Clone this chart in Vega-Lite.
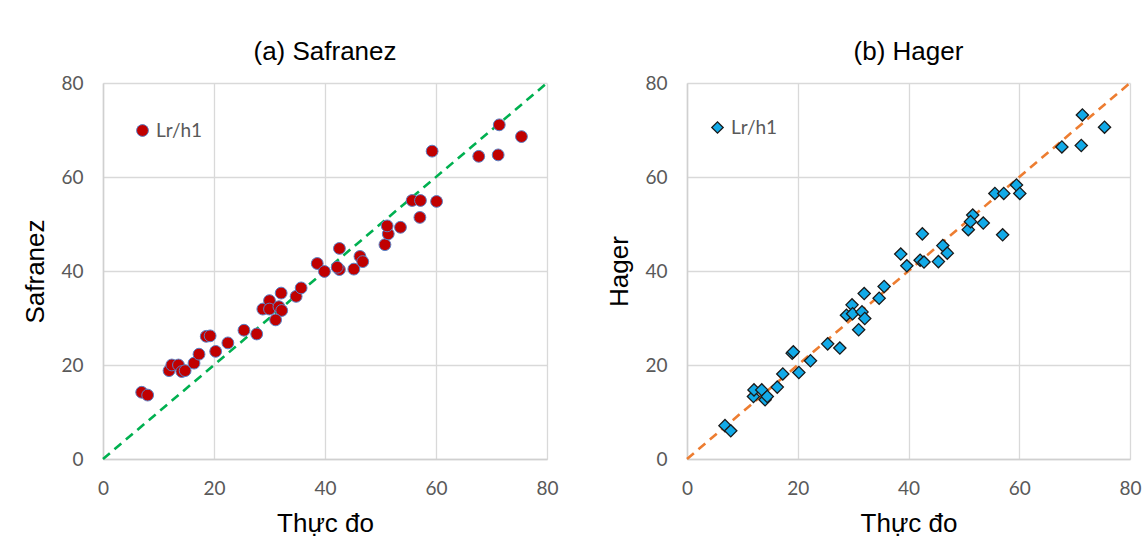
{
  "$schema": "https://vega.github.io/schema/vega-lite/v6.json",
  "background": "white",
  "padding": {"left": 22, "top": 39, "right": 4, "bottom": 0},
  "datasets": {
    "saf": [
      {"thucdo": 6.97, "tinh": 14.2, "series": "Lr/h1"},
      {"thucdo": 8.05, "tinh": 13.6, "series": "Lr/h1"},
      {"thucdo": 11.9, "tinh": 18.8, "series": "Lr/h1"},
      {"thucdo": 12.4, "tinh": 20.0, "series": "Lr/h1"},
      {"thucdo": 13.6, "tinh": 20.0, "series": "Lr/h1"},
      {"thucdo": 14.2, "tinh": 18.6, "series": "Lr/h1"},
      {"thucdo": 14.8, "tinh": 18.8, "series": "Lr/h1"},
      {"thucdo": 16.4, "tinh": 20.4, "series": "Lr/h1"},
      {"thucdo": 17.3, "tinh": 22.3, "series": "Lr/h1"},
      {"thucdo": 18.6, "tinh": 26.1, "series": "Lr/h1"},
      {"thucdo": 19.3, "tinh": 26.2, "series": "Lr/h1"},
      {"thucdo": 20.3, "tinh": 22.9, "series": "Lr/h1"},
      {"thucdo": 22.5, "tinh": 24.7, "series": "Lr/h1"},
      {"thucdo": 25.4, "tinh": 27.4, "series": "Lr/h1"},
      {"thucdo": 27.7, "tinh": 26.6, "series": "Lr/h1"},
      {"thucdo": 28.8, "tinh": 31.9, "series": "Lr/h1"},
      {"thucdo": 30.0, "tinh": 33.7, "series": "Lr/h1"},
      {"thucdo": 30.0, "tinh": 31.9, "series": "Lr/h1"},
      {"thucdo": 31.7, "tinh": 32.4, "series": "Lr/h1"},
      {"thucdo": 32.2, "tinh": 31.6, "series": "Lr/h1"},
      {"thucdo": 31.1, "tinh": 29.6, "series": "Lr/h1"},
      {"thucdo": 32.1, "tinh": 35.3, "series": "Lr/h1"},
      {"thucdo": 34.8, "tinh": 34.6, "series": "Lr/h1"},
      {"thucdo": 35.7, "tinh": 36.4, "series": "Lr/h1"},
      {"thucdo": 38.6, "tinh": 41.6, "series": "Lr/h1"},
      {"thucdo": 39.9, "tinh": 39.9, "series": "Lr/h1"},
      {"thucdo": 42.6, "tinh": 44.8, "series": "Lr/h1"},
      {"thucdo": 42.6, "tinh": 40.3, "series": "Lr/h1"},
      {"thucdo": 42.2, "tinh": 40.8, "series": "Lr/h1"},
      {"thucdo": 45.2, "tinh": 40.4, "series": "Lr/h1"},
      {"thucdo": 46.3, "tinh": 43.1, "series": "Lr/h1"},
      {"thucdo": 46.8, "tinh": 42.0, "series": "Lr/h1"},
      {"thucdo": 50.8, "tinh": 45.6, "series": "Lr/h1"},
      {"thucdo": 51.4, "tinh": 47.9, "series": "Lr/h1"},
      {"thucdo": 51.2, "tinh": 49.6, "series": "Lr/h1"},
      {"thucdo": 53.6, "tinh": 49.3, "series": "Lr/h1"},
      {"thucdo": 55.7, "tinh": 55.0, "series": "Lr/h1"},
      {"thucdo": 57.2, "tinh": 55.0, "series": "Lr/h1"},
      {"thucdo": 57.1, "tinh": 51.4, "series": "Lr/h1"},
      {"thucdo": 60.1, "tinh": 54.8, "series": "Lr/h1"},
      {"thucdo": 59.3, "tinh": 65.5, "series": "Lr/h1"},
      {"thucdo": 67.7, "tinh": 64.4, "series": "Lr/h1"},
      {"thucdo": 71.2, "tinh": 64.7, "series": "Lr/h1"},
      {"thucdo": 71.4, "tinh": 71.1, "series": "Lr/h1"},
      {"thucdo": 75.4, "tinh": 68.6, "series": "Lr/h1"}
    ],
    "hag": [
      {"thucdo": 6.86, "tinh": 7.1, "series": "Lr/h1"},
      {"thucdo": 7.9, "tinh": 6.0, "series": "Lr/h1"},
      {"thucdo": 12.0, "tinh": 13.3, "series": "Lr/h1"},
      {"thucdo": 12.1, "tinh": 14.7, "series": "Lr/h1"},
      {"thucdo": 13.5, "tinh": 14.7, "series": "Lr/h1"},
      {"thucdo": 14.1, "tinh": 12.6, "series": "Lr/h1"},
      {"thucdo": 14.5, "tinh": 13.3, "series": "Lr/h1"},
      {"thucdo": 16.3, "tinh": 15.3, "series": "Lr/h1"},
      {"thucdo": 17.3, "tinh": 18.1, "series": "Lr/h1"},
      {"thucdo": 19.0, "tinh": 22.5, "series": "Lr/h1"},
      {"thucdo": 19.2, "tinh": 22.8, "series": "Lr/h1"},
      {"thucdo": 20.2, "tinh": 18.4, "series": "Lr/h1"},
      {"thucdo": 22.3, "tinh": 20.9, "series": "Lr/h1"},
      {"thucdo": 25.4, "tinh": 24.5, "series": "Lr/h1"},
      {"thucdo": 27.6, "tinh": 23.6, "series": "Lr/h1"},
      {"thucdo": 28.8, "tinh": 30.6, "series": "Lr/h1"},
      {"thucdo": 29.8, "tinh": 32.8, "series": "Lr/h1"},
      {"thucdo": 29.9, "tinh": 30.9, "series": "Lr/h1"},
      {"thucdo": 31.6, "tinh": 31.3, "series": "Lr/h1"},
      {"thucdo": 32.1, "tinh": 29.9, "series": "Lr/h1"},
      {"thucdo": 31.0, "tinh": 27.5, "series": "Lr/h1"},
      {"thucdo": 32.0, "tinh": 35.2, "series": "Lr/h1"},
      {"thucdo": 34.7, "tinh": 34.2, "series": "Lr/h1"},
      {"thucdo": 35.6, "tinh": 36.7, "series": "Lr/h1"},
      {"thucdo": 38.6, "tinh": 43.6, "series": "Lr/h1"},
      {"thucdo": 39.7, "tinh": 41.1, "series": "Lr/h1"},
      {"thucdo": 42.5, "tinh": 47.9, "series": "Lr/h1"},
      {"thucdo": 42.1, "tinh": 42.3, "series": "Lr/h1"},
      {"thucdo": 42.8, "tinh": 41.9, "series": "Lr/h1"},
      {"thucdo": 45.4, "tinh": 42.0, "series": "Lr/h1"},
      {"thucdo": 46.2, "tinh": 45.4, "series": "Lr/h1"},
      {"thucdo": 47.0, "tinh": 43.8, "series": "Lr/h1"},
      {"thucdo": 50.8, "tinh": 48.8, "series": "Lr/h1"},
      {"thucdo": 51.6, "tinh": 51.9, "series": "Lr/h1"},
      {"thucdo": 51.2, "tinh": 50.5, "series": "Lr/h1"},
      {"thucdo": 53.5, "tinh": 50.2, "series": "Lr/h1"},
      {"thucdo": 55.6, "tinh": 56.5, "series": "Lr/h1"},
      {"thucdo": 57.2, "tinh": 56.5, "series": "Lr/h1"},
      {"thucdo": 57.0, "tinh": 47.7, "series": "Lr/h1"},
      {"thucdo": 59.5, "tinh": 58.3, "series": "Lr/h1"},
      {"thucdo": 60.1, "tinh": 56.5, "series": "Lr/h1"},
      {"thucdo": 67.7, "tinh": 66.4, "series": "Lr/h1"},
      {"thucdo": 71.2, "tinh": 66.7, "series": "Lr/h1"},
      {"thucdo": 71.4, "tinh": 73.2, "series": "Lr/h1"},
      {"thucdo": 75.4, "tinh": 70.6, "series": "Lr/h1"}
    ],
    "diag": [
      {"thucdo": 0, "tinh": 0},
      {"thucdo": 80, "tinh": 80}
    ]
  },
  "config": {
    "view": {"stroke": null},
    "font": "Liberation Sans",
    "axis": {
      "grid": true,
      "gridColor": "#d9d9d9",
      "gridWidth": 1.3,
      "domainColor": "#d0d0d0",
      "domainWidth": 1.5,
      "ticks": false,
      "labelFlush": false,
      "labelFont": "Lato",
      "labelFontSize": 19,
      "labelColor": "#595959",
      "titleFont": "Liberation Sans",
      "titleFontSize": 26,
      "titleFontWeight": "normal",
      "titleColor": "#000000"
    },
    "title": {"font": "Liberation Sans", "fontSize": 26, "fontWeight": "normal", "color": "#000000", "offset": 9},
    "legend": {"labelFont": "Lato", "labelFontSize": 19, "labelColor": "#595959", "title": null}
  },
  "spacing": 47,
  "resolve": {"scale": {"color": "independent", "shape": "independent"}, "legend": {"color": "independent"}},
  "hconcat": [
    {
      "title": "(a) Safranez",
      "width": 444,
      "height": 376,
      "layer": [
        {
          "data": {"name": "diag"},
          "mark": {"type": "line", "color": "#00B050", "strokeWidth": 2.6, "strokeDash": [9, 6]},
          "encoding": {
            "x": {"field": "thucdo", "type": "quantitative"},
            "y": {"field": "tinh", "type": "quantitative"}
          }
        },
        {
          "data": {"name": "saf"},
          "mark": {"type": "point", "shape": "circle", "filled": true, "opacity": 1, "size": 140, "stroke": "#5B7FC4", "strokeWidth": 1},
          "encoding": {
            "x": {"field": "thucdo", "type": "quantitative", "title": "Thực đo",
                  "scale": {"domain": [0, 80], "nice": false},
                  "axis": {"values": [0, 20, 40, 60, 80], "labelPadding": 20, "titlePadding": 12}},
            "y": {"field": "tinh", "type": "quantitative", "title": "Safranez",
                  "scale": {"domain": [0, 80], "nice": false},
                  "axis": {"values": [0, 20, 40, 60, 80], "labelPadding": 20, "titlePadding": 12, "domain": true}},
            "color": {"field": "series", "type": "nominal",
                      "scale": {"range": ["#C00000"]},
                      "legend": {"orient": "none", "legendX": 30, "legendY": 38, "symbolSize": 140, "symbolStrokeColor": "#5B7FC4", "symbolStrokeWidth": 1}}
          }
        }
      ]
    },
    {
      "title": "(b) Hager",
      "width": 443,
      "height": 376,
      "layer": [
        {
          "data": {"name": "diag"},
          "mark": {"type": "line", "color": "#ED7D31", "strokeWidth": 2.6, "strokeDash": [9, 6]},
          "encoding": {
            "x": {"field": "thucdo", "type": "quantitative"},
            "y": {"field": "tinh", "type": "quantitative"}
          }
        },
        {
          "data": {"name": "hag"},
          "mark": {"type": "point", "shape": "diamond", "filled": true, "opacity": 1, "size": 150, "stroke": "#1a1a1a", "strokeWidth": 1.3},
          "encoding": {
            "x": {"field": "thucdo", "type": "quantitative", "title": "Thực đo",
                  "scale": {"domain": [0, 80], "nice": false},
                  "axis": {"values": [0, 20, 40, 60, 80], "labelPadding": 20, "titlePadding": 12}},
            "y": {"field": "tinh", "type": "quantitative", "title": "Hager",
                  "scale": {"domain": [0, 80], "nice": false},
                  "axis": {"values": [0, 20, 40, 60, 80], "labelPadding": 20, "titlePadding": 12}},
            "color": {"field": "series", "type": "nominal",
                      "scale": {"range": ["#12AAE8"]},
                      "legend": {"orient": "none", "legendX": 21, "legendY": 35, "symbolSize": 130, "symbolStrokeColor": "#1a1a1a", "symbolStrokeWidth": 1.3, "symbolType": "diamond"}}
          }
        }
      ]
    }
  ]
}
